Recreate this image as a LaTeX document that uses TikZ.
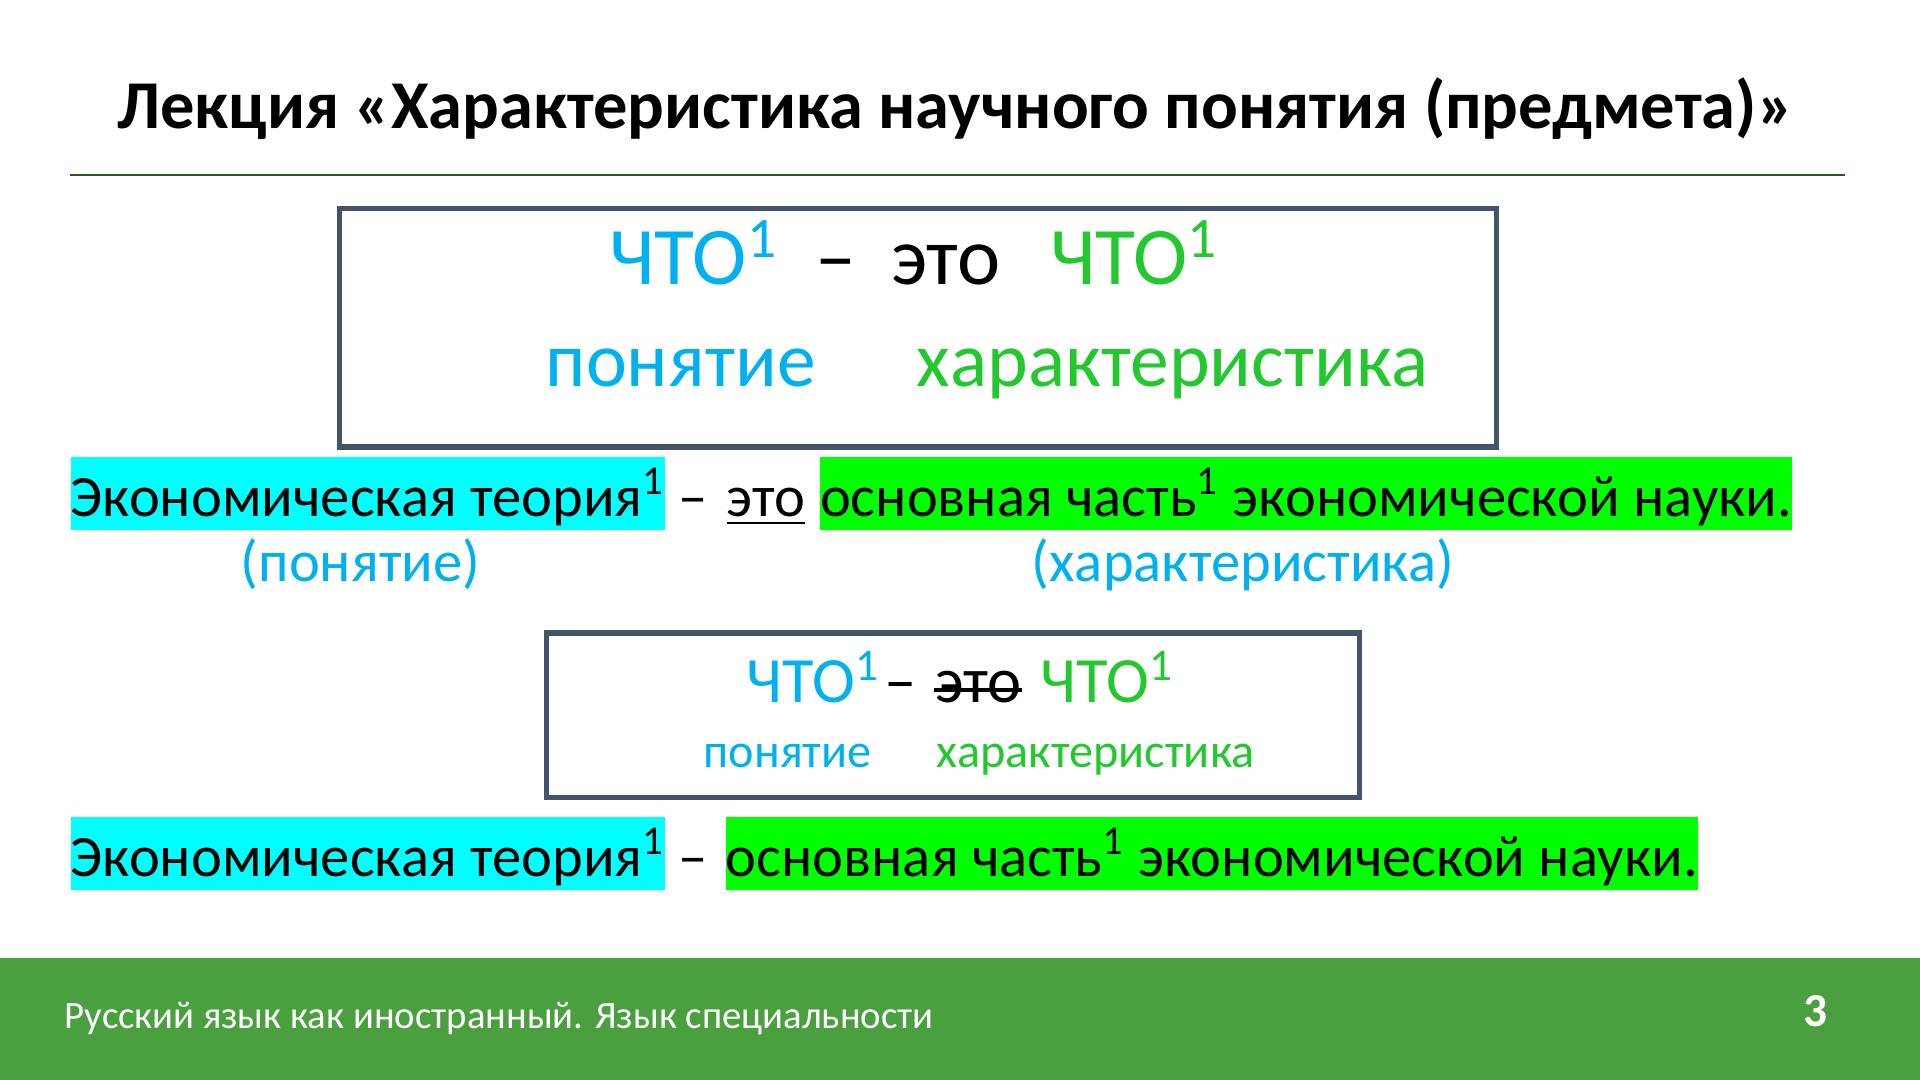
\documentclass[tikz,border=0pt]{standalone}
\usepackage{fontspec}
\setmainfont{Carlito}
\usetikzlibrary{positioning}
\definecolor{conceptblue}{RGB}{0,176,240}
\definecolor{chargreen}{RGB}{34,200,46}
\definecolor{hlcyan}{RGB}{0,255,255}
\definecolor{hlgreen}{RGB}{0,255,0}
\definecolor{boxline}{RGB}{68,84,106}
\definecolor{footgreen}{RGB}{74,160,62}
\definecolor{rulegreen}{RGB}{40,90,40}
\tikzset{
  frame/.style={draw=boxline,line width=1.2pt},
  word/.style={inner sep=0pt,anchor=base west},
  hl/.style={inner xsep=0pt,inner ysep=0pt,text height=0.49cm,text depth=0.11cm,anchor=base west},
}
\begin{document}
\begin{tikzpicture}[x=0.01cm,y=-0.01cm]
\fill[white] (0,0) rectangle (1568,882);
\useasboundingbox (0,0) rectangle (1568,882);
% title
\node[word] (title) at (95,105) {\fontsize{15.9pt}{17pt}\selectfont\bfseries Лекция «Характеристика научного понятия (предмета)»};
\draw[rulegreen,line width=0.6pt] (57,143) -- (1507,143);
% big box
\draw[frame] (277,170) rectangle (1222,365);
\node[word,text=conceptblue] (what1) at (497,232) {\fontsize{19pt}{20pt}\selectfont ЧТО\textsuperscript{1}};
\node[word] (dash0) at (665,232) {\fontsize{19pt}{20pt}\selectfont –};
\node[word] (is1) at (727,232) {\fontsize{19pt}{20pt}\selectfont это};
\node[word,text=chargreen] (what2) at (857,232) {\fontsize{19pt}{20pt}\selectfont ЧТО\textsuperscript{1}};
\node[word,text=conceptblue] (concept1) at (445,316) {\fontsize{18pt}{20pt}\selectfont понятие};
\node[word,text=chargreen] (char1) at (748,316) {\fontsize{18pt}{20pt}\selectfont характеристика};
% first sentence
\begin{scope}[font=\fontsize{13.6pt}{16pt}\selectfont]
\node[hl,fill=hlcyan] (term1) at (57,422) {Экономическая теория\textsuperscript{1}};
\node[word] (dash1) at (553,422) {–};
\node[word] (eto1) at (593,422) {\underline{это}};
\node[hl,fill=hlgreen] (def1) at (669,422) {основная часть\textsuperscript{1} экономической науки.};
\node[word,text=conceptblue] (lab1) at (196,475) {(понятие)};
\node[word,text=conceptblue] (lab2) at (842,475) {(характеристика)};
\end{scope}
% small box
\draw[frame] (446,517) rectangle (1110,651);
\node[word,text=conceptblue] (what3) at (609,574) {\fontsize{15pt}{17pt}\selectfont ЧТО\textsuperscript{1}};
\node[word] (dash2) at (722,574) {\fontsize{15pt}{17pt}\selectfont –};
\node[word] (eto2) at (763,574) {\fontsize{15pt}{17pt}\selectfont это};
\draw[line width=0.9pt] ([yshift=-0.5pt]eto2.west) -- ([yshift=-0.5pt]eto2.east);
\node[word,text=chargreen] (what4) at (849,574) {\fontsize{15pt}{17pt}\selectfont ЧТО\textsuperscript{1}};
\node[word,text=conceptblue] (concept2) at (574,627) {\fontsize{11.2pt}{13pt}\selectfont понятие};
\node[word,text=chargreen] (char2) at (764,627) {\fontsize{11.2pt}{13pt}\selectfont характеристика};
% second sentence
\begin{scope}[font=\fontsize{13.6pt}{16pt}\selectfont]
\node[hl,fill=hlcyan] (term2) at (57,716) {Экономическая теория\textsuperscript{1}};
\node[word] (dash3) at (553,716) {–};
\node[hl,fill=hlgreen] (def2) at (592,716) {основная часть\textsuperscript{1} экономической науки.};
\end{scope}
% footer
\fill[footgreen] (0,782) rectangle (1568,882);
\node[word,text=white] (foot) at (52,840) {\fontsize{9pt}{11pt}\selectfont Русский язык как иностранный. Язык специальности};
\node[word,text=white] (page) at (1472,838) {\fontsize{11pt}{12pt}\selectfont\bfseries 3};
\end{tikzpicture}
\end{document}
